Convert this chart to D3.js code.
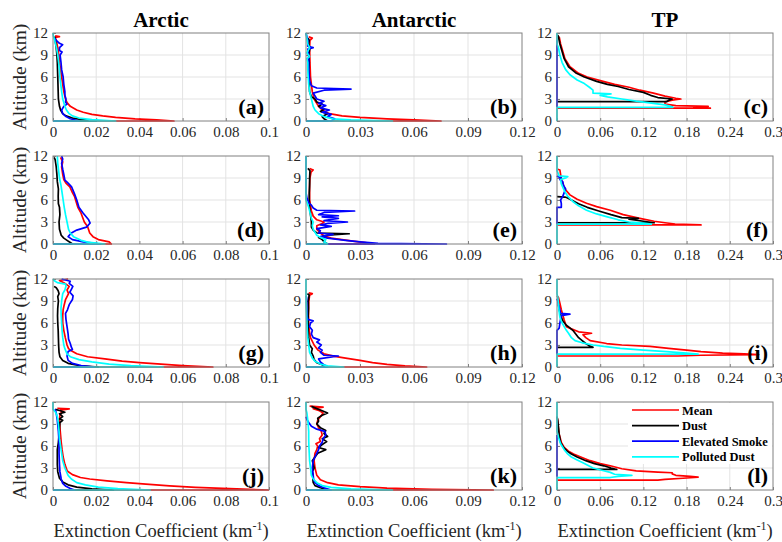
<!DOCTYPE html>
<html>
<head>
<meta charset="utf-8">
<script src="https://cdn.jsdelivr.net/npm/d3@7"></script>
<style>
  body { margin: 0; background: #fff; }
  svg { display: block; }
</style>
</head>
<body>
<script>
// profiles: [altitude km, extinction km^-1]
// --- Arctic
const aMean = [[0,0],[0,0.056],[0.15,0.048],[0.3,0.038],[0.5,0.029],[0.7,0.023],[0.9,0.018],[1.2,0.014],[1.5,0.011],[2,0.008],[2.5,0.0065],[3,0.0058],[4,0.005],[5,0.0045],[6,0.004],[7,0.0035],[8,0.003],[9,0.0027],[10,0.0022],[11,0.0015],[11.4,0.001],[11.5,0.003],[11.6,0.001]]
const aDust = [[0,0],[0,0.02],[0.2,0.013],[0.4,0.009],[0.7,0.006],[1,0.0045],[1.5,0.0035],[2,0.003],[3,0.0025],[4,0.0024],[6,0.0022],[8,0.002],[9,0.0018],[10,0.0015],[11,0.001],[11.5,0.0008]]
const aSmoke = [[0,0],[0,0.012],[0.3,0.008],[0.6,0.006],[1,0.0045],[1.5,0.004],[2,0.005],[2.3,0.0065],[2.6,0.0058],[3,0.006],[3.5,0.0055],[4,0.0055],[5,0.005],[6,0.0047],[7,0.004],[8,0.0037],[9,0.0033],[9.4,0.0042],[9.6,0.003],[10,0.003],[10.4,0.0045],[10.6,0.003],[11,0.0015],[11.3,0.0008]]
const aPolluted = [[0,0],[0,0.029],[0.2,0.018],[0.4,0.012],[0.7,0.009],[1,0.0075],[1.5,0.0062],[2,0.0055],[3,0.0045],[4,0.004],[5,0.0036],[6,0.0032],[7,0.003],[8,0.0026],[9,0.0022],[10,0.0016],[11,0.0008],[11.6,0.0002],[12,0]]

const dMean = [[0,0],[0,0.027],[0.3,0.026],[0.6,0.021],[1,0.0185],[1.5,0.017],[2.4,0.016],[3,0.0145],[4.2,0.013],[5,0.0115],[6.45,0.01],[7,0.009],[7.8,0.0078],[8.3,0.006],[8.8,0.005],[9.5,0.0045],[10.5,0.004],[11.2,0.0045],[11.8,0.0035]]
const dDust = [[0,0],[0,0.009],[0.2,0.008],[0.5,0.0065],[0.8,0.005],[1.2,0.0038],[2,0.003],[3,0.0028],[4,0.0032],[5,0.003],[5.5,0.0025],[6.5,0.0024],[7.5,0.0025],[8.5,0.002],[9.5,0.0018],[10.5,0.0015],[11.5,0.001],[11.8,0.0005]]
const dSmoke = [[0,0],[0,0.022],[0.3,0.014],[0.6,0.009],[1,0.007],[1.5,0.0085],[1.9,0.011],[2.3,0.0155],[2.86,0.0172],[3.3,0.0165],[4.2,0.014],[5,0.012],[6,0.011],[6.8,0.01],[7.8,0.0086],[8.3,0.007],[8.7,0.0055],[9.5,0.005],[10.2,0.0045],[11,0.004],[11.6,0.0045],[12,0.004]]
const dPolluted = [[0,0],[0,0.024],[0.25,0.016],[0.5,0.013],[1,0.0095],[1.5,0.008],[2,0.0072],[3,0.0065],[4,0.0058],[5,0.0052],[6,0.0047],[7,0.0042],[8,0.0037],[9,0.003],[10,0.0026],[11,0.0022],[12,0.002]]

const gMean = [[0,0],[0,0.074],[0.2,0.06],[0.4,0.05],[0.6,0.04],[0.8,0.032],[1.1,0.024],[1.4,0.016],[1.8,0.011],[2.2,0.0085],[2.5,0.0072],[3,0.0065],[4,0.0057],[5,0.005],[6,0.0045],[7,0.0045],[7.8,0.0047],[8.5,0.0052],[9.2,0.0058],[10,0.0072],[10.5,0.0065],[11,0.0075],[11.5,0.005],[11.8,0.003],[12,0.007]]
const gDust = [[0,0],[0,0.021],[0.2,0.012],[0.5,0.007],[0.9,0.0045],[1.4,0.0032],[2,0.0028],[3,0.0026],[4,0.0025],[5,0.0024],[6,0.0022],[7,0.0021],[8,0.0022],[9,0.0025],[9.6,0.0022],[10,0.0028],[10.4,0.0024],[10.8,0.0015],[11,0.0005]]
const gSmoke = [[0,0],[0,0.019],[0.2,0.013],[0.5,0.009],[0.9,0.007],[1.5,0.0065],[2.1,0.007],[2.4,0.009],[2.7,0.0085],[3.2,0.008],[3.8,0.0072],[4.5,0.007],[5.5,0.0065],[6.5,0.006],[7.3,0.0058],[7.8,0.0067],[8.5,0.0075],[9.2,0.009],[9.7,0.0093],[10.2,0.0078],[10.6,0.0085],[11,0.0092],[11.4,0.0075],[11.7,0.008],[12,0.004]]
const gPolluted = [[0,0],[0,0.051],[0.2,0.036],[0.4,0.026],[0.7,0.018],[1,0.012],[1.4,0.008],[1.8,0.0065],[2.5,0.0055],[3,0.005],[4,0.0045],[5,0.0042],[6,0.004],[7,0.0038],[8,0.0037],[9,0.004],[10,0.0045],[10.5,0.0055],[11,0.006],[11.3,0.0058],[11.5,0.002],[11.8,0.0005],[12,0]]

const jMean = [[0,0],[0,0.1],[0.15,0.085],[0.35,0.066],[0.55,0.054],[0.8,0.043],[1,0.034],[1.25,0.025],[1.5,0.017],[1.7,0.0127],[2.1,0.009],[2.6,0.0066],[3.5,0.0055],[4.5,0.0047],[5.5,0.0042],[6.5,0.0038],[7.5,0.0035],[8.5,0.0032],[9.5,0.003],[10.2,0.0032],[10.6,0.004],[10.9,0.0035],[11.05,0.0075],[11.15,0.002]]
const jDust = [[0,0],[0,0.028],[0.15,0.018],[0.4,0.011],[0.7,0.007],[1.1,0.0045],[1.6,0.003],[2.5,0.0022],[3.5,0.002],[4.5,0.002],[5.5,0.002],[6.5,0.0025],[7.5,0.0028],[8.5,0.003],[9.2,0.0032],[9.5,0.0045],[9.7,0.003],[10,0.0045],[10.4,0.003],[10.6,0.0055],[10.8,0.0035],[11,0.001]]
const jSmoke = [[0,0],[0,0.01],[0.2,0.008],[0.5,0.006],[0.9,0.0045],[1.5,0.0038],[2.5,0.0032],[3.5,0.003],[5,0.0028],[6.5,0.0028],[8,0.0025],[9.5,0.002],[10.5,0.0015],[11,0.001]]
const jPolluted = [[0,0],[0,0.045],[0.2,0.03],[0.4,0.021],[0.7,0.015],[1,0.011],[1.5,0.0085],[2,0.007],[3,0.0055],[4,0.0045],[5,0.004],[6,0.0035],[7,0.003],[8,0.0028],[9,0.0025],[10,0.002],[10.6,0.0012],[11,0],[12,0]]

// --- Antarctic
const bMean = [[0,0],[0,0.075],[0.15,0.06],[0.3,0.045],[0.5,0.03],[0.7,0.02],[1,0.013],[1.5,0.009],[2,0.007],[3,0.0045],[4,0.0035],[5,0.003],[6,0.0025],[8,0.0022],[10,0.002],[11,0.0022],[11.3,0.0035],[11.5,0.0015]]
const bDust = [[0,0],[0,0.012],[0.3,0.01],[0.6,0.009],[1,0.012],[1.3,0.008],[1.6,0.01],[2,0.007],[2.3,0.009],[2.6,0.006],[3,0.005],[3.3,0.003],[4,0.002],[5,0.0018],[6,0.0018],[7,0.0015],[8,0.0018],[9,0.0015],[10,0.0022],[10.5,0.0015],[11,0.0018],[11.3,0.0012]]
const bSmoke = [[0,0],[0,0.014],[0.3,0.016],[0.6,0.012],[0.9,0.014],[1.2,0.009],[1.5,0.013],[1.8,0.008],[2.1,0.011],[2.4,0.007],[2.7,0.01],[3,0.006],[3.4,0.005],[3.8,0.004],[4.2,0.01],[4.35,0.025],[4.5,0.006],[4.8,0.003],[5.5,0.002],[7,0.0015],[9,0.0015],[9.8,0.001],[10,0.004],[10.2,0.001],[11,0.001],[12,0]]
const bPolluted = [[0,0],[0,0.048],[0.15,0.025],[0.3,0.015],[0.6,0.01],[1,0.007],[1.5,0.005],[2,0.004],[3,0.003],[4,0.002],[5,0.0015],[6,0.0012],[7,0.001],[8,0.001],[8.5,0.0005],[8.8,0.002],[9.3,0.0005],[10,0.002],[10.5,0.001],[12,0]]

const eMean = [[0,0],[0,0.038],[0.2,0.033],[0.4,0.026],[0.6,0.02],[0.8,0.014],[1.1,0.01],[1.5,0.008],[2,0.006],[2.5,0.006],[2.8,0.009],[3,0.01],[3.3,0.006],[3.8,0.004],[4.5,0.003],[6,0.002],[7,0.002],[8,0.002],[9,0.0022],[9.8,0.0028],[10.1,0.004],[10.3,0.002]]
const eDust = [[0,0],[0,0.012],[0.3,0.01],[0.6,0.009],[0.9,0.007],[1.2,0.012],[1.4,0.024],[1.5,0.006],[1.9,0.004],[2.3,0.003],[3,0.003],[4,0.0025],[5,0.002],[6,0.0018],[7,0.0018],[8,0.002],[9,0.002],[10,0.0022],[10.3,0.001]]
const eSmoke = [[0,0],[0,0.078],[0.1,0.04],[0.3,0.03],[0.5,0.022],[0.8,0.012],[1,0.008],[1.3,0.015],[1.5,0.007],[1.8,0.008],[2.1,0.006],[2.4,0.014],[2.6,0.008],[2.8,0.012],[3,0.023],[3.2,0.01],[3.5,0.018],[3.7,0.009],[3.85,0.018],[4,0.007],[4.3,0.01],[4.5,0.027],[4.6,0.006],[4.9,0.004],[5.3,0.003],[5.6,0.0015],[6,0.001],[6.3,0.0005],[7,0],[12,0]]
const ePolluted = [[0,0],[0,0.012],[0.3,0.01],[0.6,0.011],[0.9,0.008],[1.2,0.006],[1.6,0.005],[2,0.004],[2.5,0.0035],[3,0.004],[3.5,0.003],[4,0.0025],[5,0.0015],[5.5,0.0008],[6,0],[12,0]]

const hMean = [[0,0],[0,0.067],[0.15,0.055],[0.35,0.045],[0.6,0.037],[0.9,0.03],[1.2,0.022],[1.45,0.016],[1.8,0.01],[2.3,0.0067],[3,0.0045],[4,0.0025],[5,0.0018],[6,0.0015],[7,0.0014],[8,0.0014],[9,0.0016],[9.8,0.002],[10,0.0035],[10.1,0.0015]]
const hDust = [[0,0],[0,0.011],[0.3,0.009],[0.6,0.006],[1,0.0045],[1.5,0.004],[2,0.003],[2.5,0.0035],[3,0.002],[4,0.0015],[5,0.0012],[6,0.0012],[7,0.0012],[8,0.0014],[9,0.0012],[9.8,0.0018],[10,0.0008]]
const hSmoke = [[0,0],[0,0.012],[0.3,0.01],[0.7,0.008],[1.1,0.007],[1.5,0.018],[1.6,0.01],[2,0.008],[2.3,0.009],[2.6,0.007],[3,0.0085],[3.4,0.006],[3.7,0.0075],[4,0.004],[4.5,0.003],[5,0.0035],[5.5,0.002],[6,0.0025],[6.3,0.004],[6.5,0.001],[7,0.0005],[9.5,0.0003],[9.7,0]]
const hPolluted = [[0,0],[0,0.021],[0.15,0.012],[0.4,0.008],[0.8,0.005],[1.2,0.0035],[2,0.002],[3,0.0015],[4,0.001],[5,0.0007],[6,0.0005],[8,0.0002],[10,0],[12,0]]

const kMean = [[0,0],[0,0.104],[0.1,0.07],[0.25,0.045],[0.45,0.03],[0.7,0.018],[1,0.012],[1.4,0.008],[2,0.006],[3,0.005],[4,0.0045],[5,0.005],[5.5,0.006],[6,0.0065],[6.3,0.0055],[6.6,0.008],[7,0.0075],[7.5,0.009],[8,0.0085],[8.5,0.007],[9,0.006],[9.5,0.0065],[10,0.008],[10.5,0.0095],[10.8,0.0075],[11.1,0.004],[11.3,0.0095],[11.45,0.002]]
const kDust = [[0,0],[0,0.012],[0.3,0.008],[0.6,0.005],[1,0.004],[1.5,0.0038],[2,0.004],[2.5,0.0035],[3,0.0045],[3.5,0.004],[4,0.0035],[4.5,0.005],[5,0.0065],[5.5,0.011],[5.8,0.007],[6.2,0.009],[6.6,0.0115],[7,0.009],[7.3,0.012],[7.7,0.01],[8.1,0.011],[8.5,0.008],[9,0.006],[9.4,0.007],[9.8,0.0065],[10.2,0.009],[10.5,0.012],[10.8,0.009],[11.1,0.006],[11.4,0.003]]
const kSmoke = [[0,0],[0,0.014],[0.3,0.01],[0.6,0.007],[1,0.005],[1.5,0.0042],[2,0.004],[3,0.0035],[4,0.004],[4.5,0.005],[5,0.006],[5.5,0.007],[6,0.0075],[6.5,0.009],[7,0.0095],[7.5,0.011],[8,0.0105],[8.3,0.006],[8.7,0.003],[9.2,0.0015],[9.6,0.0005],[10,0]]
const kPolluted = [[0,0],[0,0.048],[0.15,0.025],[0.35,0.014],[0.6,0.009],[1,0.006],[1.5,0.004],[2,0.003],[3,0.0025],[4,0.002],[5,0.0018],[6,0.0016],[7,0.0015],[8,0.0015],[9,0.0012],[9.5,0.001],[10.5,0.0005],[11,0],[12,0]]

// --- TP
const cMean = [[1.75,0],[1.75,0.213],[1.85,0.19],[2,0.21],[2.1,0.165],[2.3,0.15],[2.6,0.15],[2.85,0.16],[3,0.172],[3.1,0.165],[3.4,0.15],[3.8,0.134],[4.2,0.115],[4.6,0.1],[5,0.08],[5.4,0.064],[6,0.042],[6.5,0.03],[7.4,0.018],[8.5,0.011],[9.5,0.008],[10.5,0.005],[11.5,0.003]]
const cDust = [[2.63,0],[2.63,0.152],[2.8,0.155],[3,0.16],[3.2,0.14],[3.5,0.13],[3.9,0.12],[4.3,0.1],[4.7,0.085],[5,0.07],[5.4,0.055],[6,0.038],[6.5,0.027],[7.4,0.016],[8.5,0.01],[9.5,0.007],[10.5,0.004],[11.5,0.002],[11.7,0.001]]
const cSmoke = [[1.9,0],[11,0]]
const cPolluted = [[0,0],[1.86,0],[1.86,0.161],[1.95,0.16],[2.2,0.15],[2.4,0.134],[2.7,0.11],[3,0.09],[3.3,0.07],[3.5,0.06],[3.7,0.075],[3.8,0.05],[4.2,0.05],[4.6,0.045],[5.1,0.038],[5.6,0.028],[6.3,0.018],[7,0.012],[8,0.007],[9,0.004],[10,0.002],[10.5,0],[12,0]]

const fMean = [[2.6,0],[2.6,0.2],[2.73,0.164],[2.9,0.15],[3.1,0.135],[3.5,0.115],[4,0.092],[4.6,0.074],[5.1,0.055],[5.55,0.041],[6.1,0.028],[6.7,0.018],[7.5,0.011],[8.7,0.0065],[9.5,0.005],[10.1,0.004],[10.2,0.001]]
const fDust = [[2.9,0],[2.9,0.135],[3.1,0.12],[3.4,0.1],[3.5,0.113],[3.6,0.09],[4,0.075],[4.5,0.058],[5,0.042],[5.5,0.03],[6,0.02],[6.3,0.014],[6.4,0.011],[6.45,0]]
const fSmoke = [[2.7,0],[5,0],[5,0.006],[5.5,0.006],[6,0.005],[6.5,0.008],[7,0.01],[7.5,0.012],[8,0.009],[8.5,0.008],[8.8,0.004],[9,0.006],[9.2,0.001],[9.3,0]]
const fPolluted = [[0,0],[2.7,0],[2.7,0.131],[2.85,0.12],[3,0.1],[3.3,0.085],[3.7,0.07],[4.1,0.055],[4.6,0.041],[5.2,0.03],[5.8,0.022],[6.5,0.015],[7.3,0.01],[8.2,0.006],[8.8,0.005],[9,0.012],[9.2,0.015],[9.3,0.003],[10,0],[12,0]]

const iMean = [[1.5,0],[1.5,0.168],[1.6,0.2],[1.7,0.28],[1.8,0.26],[1.9,0.23],[2.1,0.2],[2.3,0.18],[2.55,0.155],[2.8,0.129],[3,0.09],[3.2,0.069],[3.6,0.046],[4,0.04],[4.4,0.036],[4.6,0.048],[4.8,0.03],[5.2,0.02],[5.5,0.013],[6.4,0.01],[7.8,0.006],[8.7,0.004],[9.5,0.002],[9.7,0]]
const iDust = [[2.68,0],[2.68,0.05],[2.9,0.045],[3.2,0.04],[3.6,0.035],[4,0.03],[4.5,0.026],[5,0.022],[5.4,0.017],[5.7,0.013],[6.3,0.008],[6.8,0.006],[7.8,0.003],[8.5,0.002]]
const iSmoke = [[1.7,0],[5,0],[5.3,0.003],[6,0.004],[6.5,0.005],[7,0.006],[7.2,0.018],[7.3,0.005],[7.8,0.004],[8.5,0.002],[9,0.001],[9.3,0]]
const iPolluted = [[0,0],[1.75,0],[1.75,0.196],[1.9,0.18],[2.1,0.152],[2.3,0.12],[2.55,0.088],[2.8,0.065],[3,0.05],[3.3,0.035],[3.6,0.025],[4,0.02],[4.6,0.016],[5,0.013],[5.5,0.01],[6.2,0.006],[6.8,0.004],[7.5,0.003],[8.5,0.002],[9.5,0.001],[10,0],[12,0]]

const lMean = [[1.35,0],[1.35,0.14],[1.45,0.15],[1.6,0.175],[1.75,0.196],[1.85,0.185],[2,0.165],[2.2,0.16],[2.35,0.16],[2.45,0.14],[2.6,0.11],[2.9,0.09],[3.3,0.074],[3.6,0.06],[4,0.046],[4.5,0.033],[4.9,0.023],[5.3,0.016],[5.8,0.01],[6.5,0.006],[7.6,0.003],[8.5,0.002],[9.5,0.001],[10,0]]
const lDust = [[2.8,0],[2.8,0.083],[3,0.075],[3.3,0.065],[3.6,0.052],[4,0.04],[4.5,0.028],[4.9,0.02],[5.3,0.014],[5.8,0.009],[6.5,0.005],[7.6,0.003],[8.5,0.002],[9.5,0.001],[10,0]]
const lSmoke = [[1.8,0],[7.5,0]]
const lPolluted = [[0,0],[1.7,0],[1.7,0.074],[1.85,0.085],[2,0.104],[2.15,0.08],[2.4,0.074],[2.7,0.062],[3,0.05],[3.4,0.042],[3.7,0.036],[4.1,0.028],[4.5,0.02],[5,0.014],[5.5,0.01],[6.3,0.005],[7.2,0.002],[8,0],[12,0]]

const regions = ['Arctic', 'Antarctic', 'TP']
const seriesNames = ['Mean', 'Dust', 'Elevated Smoke', 'Polluted Dust']
const seriesColors = ['#ff0000', '#000000', '#0000ff', '#00ffff']
const altTicks = [0, 3, 6, 9, 12]
const extTicks = [
  [0, 0.02, 0.04, 0.06, 0.08, 0.1],
  [0, 0.03, 0.06, 0.09, 0.12],
  [0, 0.06, 0.12, 0.18, 0.24, 0.3]
]
const extMax = [0.1, 0.12, 0.3]
const letters = ['a', 'b', 'c', 'd', 'e', 'f', 'g', 'h', 'i', 'j', 'k', 'l']

// row-major, columns Arctic / Antarctic / TP
const panels = [
  [aMean, aDust, aSmoke, aPolluted], [bMean, bDust, bSmoke, bPolluted], [cMean, cDust, cSmoke, cPolluted],
  [dMean, dDust, dSmoke, dPolluted], [eMean, eDust, eSmoke, ePolluted], [fMean, fDust, fSmoke, fPolluted],
  [gMean, gDust, gSmoke, gPolluted], [hMean, hDust, hSmoke, hPolluted], [iMean, iDust, iSmoke, iPolluted],
  [jMean, jDust, jSmoke, jPolluted], [kMean, kDust, kSmoke, kPolluted], [lMean, lDust, lSmoke, lPolluted]
]

// layout
const width = 782, height = 542
const colX = [53, 306, 557], rowY = [33, 156, 279, 402]
const plotW = 216, plotH = 88

const svg = d3.select('body').append('svg')
  .attr('width', width)
  .attr('height', height)

const fmt = d => d === 0 ? '0' : String(+d.toFixed(2))

panels.forEach((series, i) => {
  const r = Math.floor(i / 3), c = i % 3
  const g = svg.append('g').attr('transform', `translate(${colX[c]}, ${rowY[r]})`)

  const x = d3.scaleLinear().domain([0, extMax[c]]).range([0, plotW])
  const y = d3.scaleLinear().domain([0, 12]).range([plotH, 0])

  // grid
  g.append('g').selectAll('line').data(extTicks[c].slice(1, -1)).enter()
    .append('line')
    .attr('x1', d => x(d)).attr('x2', d => x(d))
    .attr('y1', 0).attr('y2', plotH)
    .attr('stroke', '#e3e3e3')
  g.append('g').selectAll('line').data(altTicks.slice(1, -1)).enter()
    .append('line')
    .attr('y1', d => y(d)).attr('y2', d => y(d))
    .attr('x1', 0).attr('x2', plotW)
    .attr('stroke', '#e3e3e3')

  // axes
  const xa = g.append('g')
    .attr('transform', `translate(0, ${plotH})`)
    .call(d3.axisBottom(x).tickValues(extTicks[c]).tickFormat(fmt).tickSizeInner(-3).tickSizeOuter(0).tickPadding(5))
  const ya = g.append('g')
    .call(d3.axisLeft(y).tickValues(altTicks).tickFormat(d3.format('d')).tickSizeInner(-3).tickSizeOuter(0).tickPadding(5))
  ;[xa, ya].forEach(a => {
    a.attr('font-size', 15)
    a.select('.domain').remove()
    a.selectAll('line').attr('stroke', '#808080')
    a.selectAll('text').attr('fill', '#262626')
  })

  // profiles
  const clipId = 'clip' + i
  g.append('clipPath').attr('id', clipId)
    .append('rect')
    .attr('x', -2).attr('y', -2)
    .attr('width', plotW + 2).attr('height', plotH + 4)

  const line = d3.line()
    .x(d => x(d[1]))
    .y(d => y(d[0]))

  g.append('g').attr('clip-path', `url(#${clipId})`)
    .selectAll('path').data(series).enter()
    .append('path')
    .attr('d', line)
    .attr('fill', 'none')
    .attr('stroke', (d, k) => seriesColors[k])
    .attr('stroke-width', 1.7)
    .attr('stroke-linejoin', 'round')

  // box
  g.append('rect')
    .attr('width', plotW).attr('height', plotH)
    .attr('fill', 'none')
    .attr('stroke', '#808080')
    .attr('stroke-width', 1)

  g.append('text')
    .attr('x', plotW - 5).attr('y', plotH - 7)
    .attr('text-anchor', 'end')
    .attr('font-weight', 'bold')
    .attr('font-size', 22)
    .text(`(${letters[i]})`)

  if (r === 0) {
    g.append('text')
      .attr('x', plotW / 2).attr('y', -6)
      .attr('text-anchor', 'middle')
      .attr('font-weight', 'bold')
      .attr('font-size', 21)
      .text(regions[c])
  }
  if (c === 0) {
    svg.append('text')
      .attr('transform', `translate(26, ${rowY[r] + plotH / 2}) rotate(-90)`)
      .attr('text-anchor', 'middle')
      .attr('font-size', 19.5)
      .attr('fill', '#262626')
      .text('Altitude (km)')
  }
  if (r === 3) {
    const t = svg.append('text')
      .attr('x', colX[c] + plotW / 2).attr('y', 537)
      .attr('text-anchor', 'middle')
      .attr('font-size', 18.5)
      .attr('fill', '#262626')
    t.append('tspan').text('Extinction Coefficient (km')
    t.append('tspan').attr('dy', -7).attr('font-size', 12).text('-1')
    t.append('tspan').attr('dy', 7).text(')')
  }

  // legend in the last panel
  if (i === 11) {
    const lg = g.append('g').attr('transform', 'translate(71, 1)')
    lg.append('rect')
      .attr('width', plotW - 72).attr('height', 61)
      .attr('fill', '#fff')
    seriesNames.forEach((name, k) => {
      const ly = 7 + k * 15.6
      lg.append('line')
        .attr('x1', 4).attr('x2', 51)
        .attr('y1', ly).attr('y2', ly)
        .attr('stroke', seriesColors[k])
        .attr('stroke-width', 1.7)
      lg.append('text')
        .attr('x', 54).attr('y', ly + 4.5)
        .attr('font-size', 12.5)
        .attr('font-weight', 'bold')
        .text(name)
    })
  }
})

// serif everywhere, overriding d3-axis' own font attribute
svg.selectAll('text').style('font-family', '"Liberation Serif"')
</script>
</body>
</html>
